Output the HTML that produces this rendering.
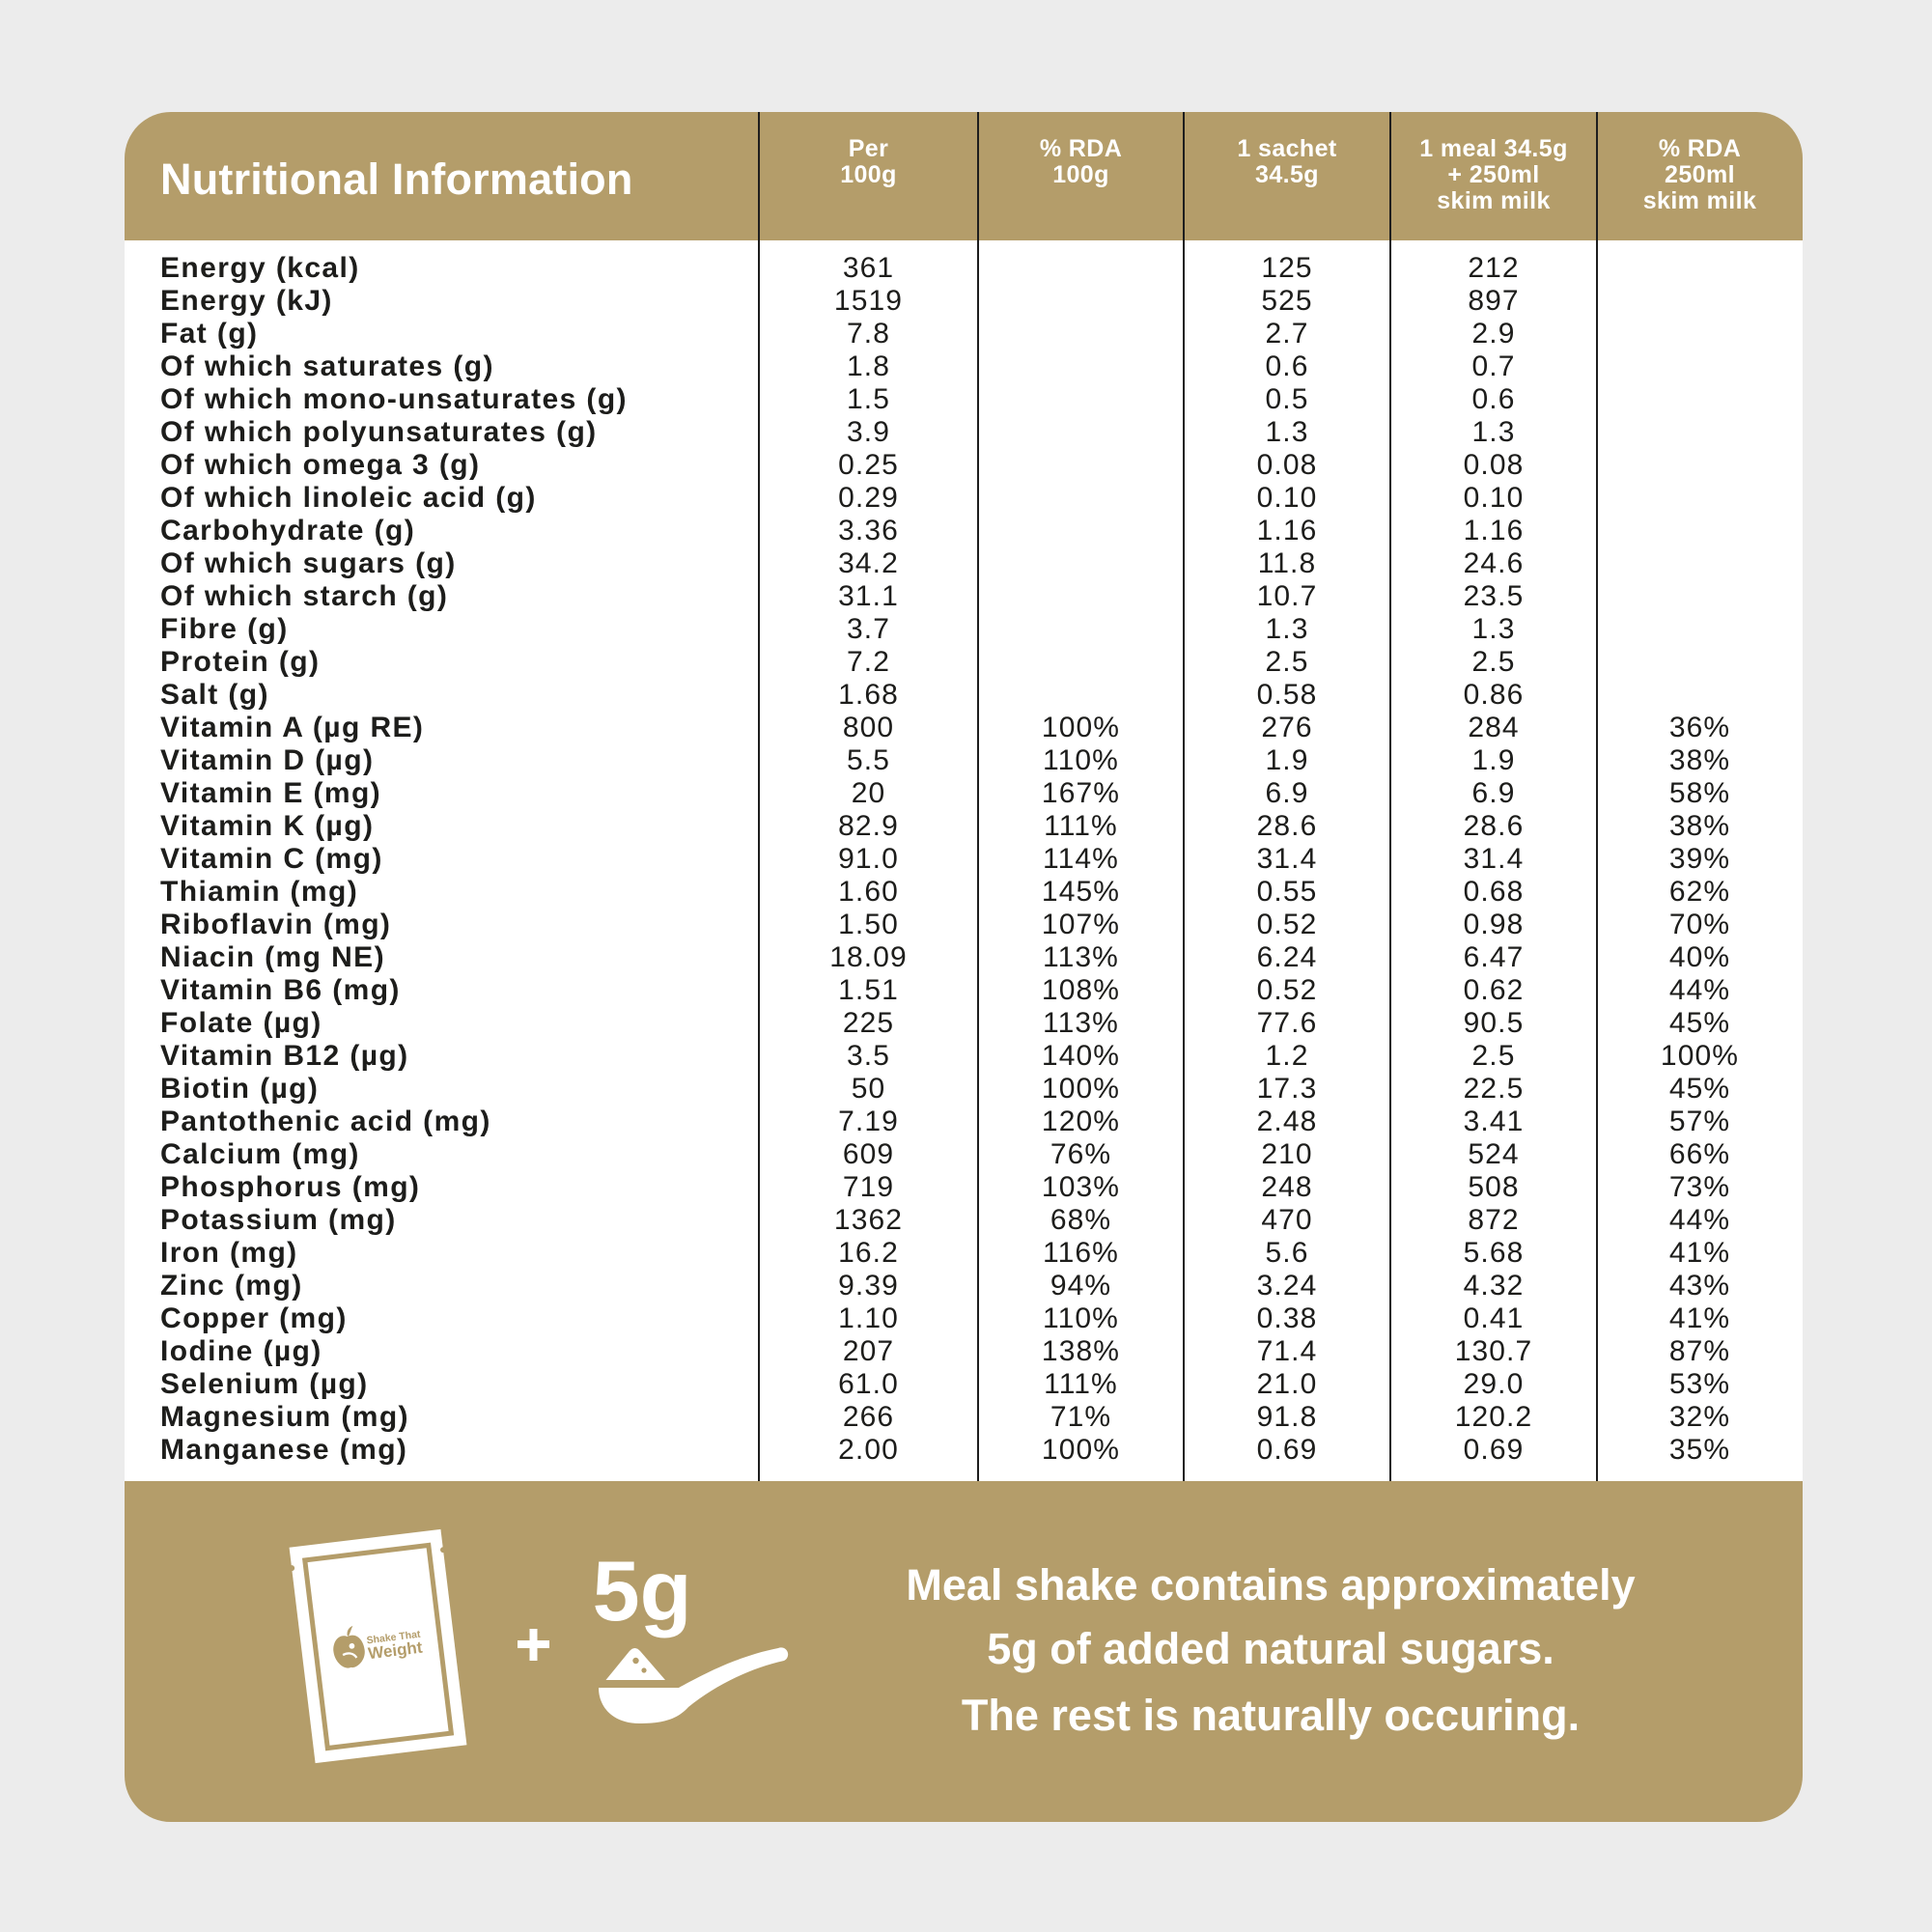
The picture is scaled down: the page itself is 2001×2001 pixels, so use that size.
<!DOCTYPE html>
<html>
<head>
<meta charset="utf-8">
<style>
  html,body{margin:0;padding:0;}
  body{width:2001px;height:2001px;background:#ececec;position:relative;overflow:hidden;
       font-family:"Liberation Sans",Arial,sans-serif;}
  .abs{position:absolute;}
  .gold{background:#b49d6a;}
  .vline{position:absolute;top:116px;height:1418px;width:2px;background:#1e1e1e;}
  .title{left:166px;top:163px;font-size:45px;line-height:46px;font-weight:bold;color:#fff;white-space:nowrap;letter-spacing:0.2px;}
  .hcol{position:absolute;top:141px;text-align:center;font-size:25px;line-height:27px;font-weight:bold;color:#fff;letter-spacing:0.4px;}
  .labels{position:absolute;left:166px;top:261px;font-size:30px;line-height:34px;font-weight:bold;color:#1d1d1b;letter-spacing:1.4px;white-space:nowrap;}
  .col{position:absolute;top:261px;text-align:center;font-size:30px;line-height:34px;color:#1d1d1b;letter-spacing:1.1px;white-space:nowrap;}
  .foot{position:absolute;left:816px;width:1000px;text-align:center;font-size:45px;line-height:45px;font-weight:bold;color:#fff;white-space:nowrap;}
</style>
</head>
<body>
  <!-- card -->
  <div class="abs gold" style="left:129px;top:116px;width:1738px;height:133px;border-radius:48px 48px 0 0;"></div>
  <div class="abs" style="left:129px;top:249px;width:1738px;height:1285px;background:#fff;"></div>
  <div class="abs gold" style="left:129px;top:1534px;width:1738px;height:353px;border-radius:0 0 48px 48px;"></div>

  <!-- dividers -->
  <div class="vline" style="left:785px;"></div>
  <div class="vline" style="left:1012px;"></div>
  <div class="vline" style="left:1225px;"></div>
  <div class="vline" style="left:1439px;"></div>
  <div class="vline" style="left:1653px;"></div>

  <!-- header -->
  <div class="abs title">Nutritional Information</div>
  <div class="hcol" style="left:786px;width:227px;">Per<br>100g</div>
  <div class="hcol" style="left:1013px;width:213px;">% RDA<br>100g</div>
  <div class="hcol" style="left:1226px;width:214px;">1 sachet<br>34.5g</div>
  <div class="hcol" style="left:1440px;width:214px;">1 meal 34.5g<br>+ 250ml<br>skim milk</div>
  <div class="hcol" style="left:1654px;width:213px;">% RDA<br>250ml<br>skim milk</div>

  <!-- labels -->
  <div class="labels">
Energy (kcal)<br>
Energy (kJ)<br>
Fat (g)<br>
Of which saturates (g)<br>
Of which mono-unsaturates (g)<br>
Of which polyunsaturates (g)<br>
Of which omega 3 (g)<br>
Of which linoleic acid (g)<br>
Carbohydrate (g)<br>
Of which sugars (g)<br>
Of which starch (g)<br>
Fibre (g)<br>
Protein (g)<br>
Salt (g)<br>
Vitamin A (µg RE)<br>
Vitamin D (µg)<br>
Vitamin E (mg)<br>
Vitamin K (µg)<br>
Vitamin C (mg)<br>
Thiamin (mg)<br>
Riboflavin (mg)<br>
Niacin (mg NE)<br>
Vitamin B6 (mg)<br>
Folate (µg)<br>
Vitamin B12 (µg)<br>
Biotin (µg)<br>
Pantothenic acid (mg)<br>
Calcium (mg)<br>
Phosphorus (mg)<br>
Potassium (mg)<br>
Iron (mg)<br>
Zinc (mg)<br>
Copper (mg)<br>
Iodine (µg)<br>
Selenium (µg)<br>
Magnesium (mg)<br>
Manganese (mg)
  </div>

  <!-- Per 100g -->
  <div class="col" style="left:786px;width:227px;">
361<br>1519<br>7.8<br>1.8<br>1.5<br>3.9<br>0.25<br>0.29<br>3.36<br>34.2<br>31.1<br>3.7<br>7.2<br>1.68<br>800<br>5.5<br>20<br>82.9<br>91.0<br>1.60<br>1.50<br>18.09<br>1.51<br>225<br>3.5<br>50<br>7.19<br>609<br>719<br>1362<br>16.2<br>9.39<br>1.10<br>207<br>61.0<br>266<br>2.00
  </div>

  <!-- % RDA 100g -->
  <div class="col" style="left:1013px;width:213px;">
&nbsp;<br>&nbsp;<br>&nbsp;<br>&nbsp;<br>&nbsp;<br>&nbsp;<br>&nbsp;<br>&nbsp;<br>&nbsp;<br>&nbsp;<br>&nbsp;<br>&nbsp;<br>&nbsp;<br>&nbsp;<br>100%<br>110%<br>167%<br>111%<br>114%<br>145%<br>107%<br>113%<br>108%<br>113%<br>140%<br>100%<br>120%<br>76%<br>103%<br>68%<br>116%<br>94%<br>110%<br>138%<br>111%<br>71%<br>100%
  </div>

  <!-- 1 sachet -->
  <div class="col" style="left:1226px;width:214px;">
125<br>525<br>2.7<br>0.6<br>0.5<br>1.3<br>0.08<br>0.10<br>1.16<br>11.8<br>10.7<br>1.3<br>2.5<br>0.58<br>276<br>1.9<br>6.9<br>28.6<br>31.4<br>0.55<br>0.52<br>6.24<br>0.52<br>77.6<br>1.2<br>17.3<br>2.48<br>210<br>248<br>470<br>5.6<br>3.24<br>0.38<br>71.4<br>21.0<br>91.8<br>0.69
  </div>

  <!-- 1 meal -->
  <div class="col" style="left:1440px;width:214px;">
212<br>897<br>2.9<br>0.7<br>0.6<br>1.3<br>0.08<br>0.10<br>1.16<br>24.6<br>23.5<br>1.3<br>2.5<br>0.86<br>284<br>1.9<br>6.9<br>28.6<br>31.4<br>0.68<br>0.98<br>6.47<br>0.62<br>90.5<br>2.5<br>22.5<br>3.41<br>524<br>508<br>872<br>5.68<br>4.32<br>0.41<br>130.7<br>29.0<br>120.2<br>0.69
  </div>

  <!-- % RDA 250ml -->
  <div class="col" style="left:1654px;width:213px;">
&nbsp;<br>&nbsp;<br>&nbsp;<br>&nbsp;<br>&nbsp;<br>&nbsp;<br>&nbsp;<br>&nbsp;<br>&nbsp;<br>&nbsp;<br>&nbsp;<br>&nbsp;<br>&nbsp;<br>&nbsp;<br>36%<br>38%<br>58%<br>38%<br>39%<br>62%<br>70%<br>40%<br>44%<br>45%<br>100%<br>45%<br>57%<br>66%<br>73%<br>44%<br>41%<br>43%<br>41%<br>87%<br>53%<br>32%<br>35%
  </div>

  <!-- footer graphics -->
  <svg class="abs" style="left:0;top:0;" width="2001" height="2001" viewBox="0 0 2001 2001">
    <!-- sachet -->
    <g transform="translate(391.5,1705) rotate(-6.9)">
      <rect x="-79" y="-112.5" width="158" height="225" fill="#fff"/>
      <circle cx="-79" cy="-91" r="3" fill="#b49d6a"/>
      <circle cx="79" cy="-91" r="3" fill="#b49d6a"/>
      <rect x="-64.5" y="-97.5" width="129" height="196" fill="none" stroke="#b49d6a" stroke-width="5"/>
      <!-- logo -->
      <g transform="translate(-28,0) scale(1.15)">
        <path d="M-2,-12 C-10,-16 -16,-8 -16,0 C-16,10 -8,18 -2,16 C2,18 12,12 12,2 C12,-8 6,-15 -2,-12 Z" fill="#b49d6a"/>
        <path d="M-2,-13 C-2,-17 0,-20 4,-21 C2,-18 1,-15 -1,-12 Z" fill="#b49d6a"/>
        <circle cx="1" cy="-3" r="2.5" fill="#fff"/>
        <path d="M-8,4 C-2,2 2,4 4,8" stroke="#fff" stroke-width="2" fill="none"/>
      </g>
      <text x="-11" y="-4" font-family="Liberation Sans, sans-serif" font-weight="bold" font-size="10.5" fill="#b49d6a">Shake That</text>
      <text x="-11" y="12" font-family="Liberation Sans, sans-serif" font-weight="bold" font-size="17" fill="#b49d6a">Weight</text>
    </g>
    <!-- plus -->
    <rect x="536" y="1699" width="33" height="8" fill="#fff"/>
    <rect x="548.5" y="1687" width="8" height="33" fill="#fff"/>
    <!-- 5g -->
    <text x="665" y="1678" text-anchor="middle" font-family="Liberation Sans, sans-serif" font-weight="bold" font-size="88" fill="#fff">5g</text>
    <!-- powder -->
    <path d="M627.5,1740 L652,1710 Q657.5,1704 663,1710 L689,1740 Z" fill="#fff"/>
    <circle cx="658.5" cy="1720" r="3.2" fill="#b49d6a"/>
    <circle cx="667" cy="1730" r="2.6" fill="#b49d6a"/>
    <!-- spoon -->
    <path d="M620,1748 L703,1748 C722,1738 760,1716 806,1707 A6.5,6.5 0 0 1 812,1720 C776,1728 740,1746 713,1768 C702,1780 688,1785 662,1785 C636,1785 620,1769 620,1748 Z" fill="#fff"/>
  </svg>

  <!-- footer text -->
  <div class="foot" style="top:1619px;">Meal shake contains approximately</div>
  <div class="foot" style="top:1685px;">5g of added natural sugars.</div>
  <div class="foot" style="top:1754px;">The rest is naturally occuring.</div>
</body>
</html>
